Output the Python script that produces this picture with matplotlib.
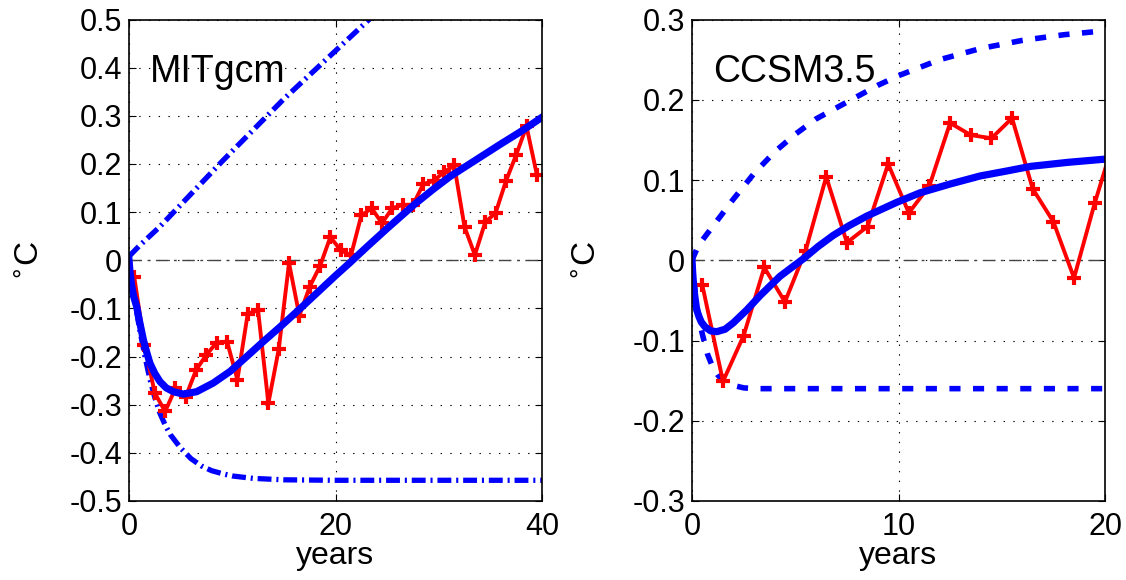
import matplotlib
matplotlib.use('Agg')
import matplotlib.pyplot as plt

plt.rcParams['font.family'] = ['Liberation Sans', 'DejaVu Sans']
plt.rcParams['lines.scale_dashes'] = False

# MITgcm panel
mit_years = [0.5, 1.5, 2.5, 3.5, 4.5, 5.5, 6.5, 7.5, 8.5, 9.5,
             10.5, 11.5, 12.5, 13.5, 14.5, 15.5, 16.5, 17.5, 18.5, 19.5,
             20.5, 21.5, 22.5, 23.5, 24.5, 25.5, 26.5, 27.5, 28.5, 29.5,
             30.5, 31.5, 32.5, 33.5, 34.5, 35.5, 36.5, 37.5, 38.5, 39.5]
mit_obs = [-0.034, -0.176, -0.276, -0.314, -0.266, -0.283, -0.228, -0.196, -0.171, -0.169,
           -0.248, -0.111, -0.104, -0.297, -0.185, -0.006, -0.115, -0.055, -0.012, 0.048,
           0.021, 0.010, 0.093, 0.108, 0.077, 0.108, 0.115, 0.115, 0.158, 0.165,
           0.183, 0.197, 0.069, 0.011, 0.079, 0.098, 0.164, 0.219, 0.278, 0.178]

mit_fit_x = [0, 0.1, 0.25, 0.45, 0.74, 1.05, 1.39, 1.7, 2.03, 2.5, 3.0, 3.6, 4.3, 5.26,
             6.55, 8.16, 9.78, 11.4, 13.0, 14.6, 16.6, 18, 20, 21.4, 23, 25, 27.7,
             29.5, 31.1, 33.5, 35.9, 38, 40]
mit_fit_y = [0, -0.025, -0.052, -0.075, -0.096, -0.13, -0.165, -0.19, -0.214, -0.235,
             -0.252, -0.265, -0.273, -0.278, -0.273, -0.255, -0.231, -0.2, -0.169,
             -0.139, -0.1, -0.072, -0.032, -0.005, 0.027, 0.066, 0.117, 0.148, 0.174,
             0.207, 0.24, 0.268, 0.297]

mit_up_x = [0, 1, 3, 5, 7, 9, 12, 15, 18, 21, 24]
mit_up_y = [0.008, 0.03, 0.07, 0.115, 0.16, 0.205, 0.27, 0.335, 0.395, 0.455, 0.515]

mit_lo_x = [0, 0.5, 1, 1.5, 2, 2.5, 3, 3.5, 4, 5, 6, 7, 8, 9, 10, 12, 15, 20, 40]
mit_lo_y = [0, -0.075, -0.14, -0.195, -0.245, -0.285, -0.318, -0.342, -0.362, -0.39,
            -0.412, -0.427, -0.437, -0.443, -0.448, -0.453, -0.456, -0.457, -0.457]

# CCSM3.5 panel
ccsm_years = [0.5, 1.5, 2.5, 3.5, 4.5, 5.5, 6.5, 7.5, 8.5, 9.5,
              10.5, 11.5, 12.5, 13.5, 14.5, 15.5, 16.5, 17.5, 18.5, 19.5, 20.5]
ccsm_obs = [-0.031, -0.151, -0.094, -0.009, -0.052, 0.012, 0.104, 0.022, 0.042, 0.120,
            0.059, 0.093, 0.171, 0.156, 0.152, 0.177, 0.089, 0.048, -0.022, 0.071, 0.155]

ccsm_fit_x = [0, 0.03, 0.06, 0.12, 0.23, 0.35, 0.45, 0.63, 0.9, 1.2, 1.6, 2.0, 2.65,
              3.3, 4.26, 5.4, 6.1, 6.84, 7.6, 8.46, 9.9, 11.04, 12.5, 13.95, 15.2,
              16.4, 18.2, 20]
ccsm_fit_y = [0, -0.014, -0.025, -0.042, -0.062, -0.071, -0.077, -0.083, -0.088, -0.089,
              -0.086, -0.078, -0.062, -0.044, -0.02, 0.002, 0.017, 0.031, 0.043, 0.055,
              0.072, 0.084, 0.095, 0.105, 0.111, 0.117, 0.122, 0.126]

ccsm_up_x = [0, 0.25, 0.5, 1, 1.5, 2, 3, 4, 5, 6, 7, 8, 9, 10, 12, 14, 16, 18, 20]
ccsm_up_y = [0, 0.015, 0.025, 0.042, 0.059, 0.076, 0.108, 0.135, 0.157, 0.176, 0.19,
             0.204, 0.218, 0.23, 0.25, 0.264, 0.274, 0.281, 0.286]

ccsm_lo_x = [0, 0.15, 0.3, 0.5, 0.75, 1.0, 1.25, 1.5, 2, 2.5, 3, 20]
ccsm_lo_y = [0, -0.04, -0.068, -0.092, -0.117, -0.133, -0.143, -0.150, -0.156, -0.159,
             -0.16, -0.16]

fig = plt.figure(figsize=(11.26, 5.8), dpi=100)
ax1 = fig.add_axes([129/1126, 79/580, 413/1126, 481.5/580])
ax2 = fig.add_axes([692/1126, 79/580, 413/1126, 481.5/580])

dashdot = (0, (10, 3.5, 1.5, 3.5))
dashed = (0, (8.0, 9.0))


def style_axes(ax, xmax, ymax, step, xticks, name):
    ax.set_xlim(0, xmax)
    ax.set_ylim(-ymax, ymax)
    ax.set_xticks(xticks)
    n = int(round(ymax / step))
    ax.set_yticks([round(i * step, 2) for i in range(-n, n + 1)])
    ax.set_yticklabels(['0' if i == 0 else '%g' % round(i * step, 2) for i in range(-n, n + 1)])
    ax.grid(True, linestyle=(0, (1, 6)), color='k', linewidth=0.8)
    ax.tick_params(direction='in', top=True, right=True, length=5, width=0.8,
                   labelsize=22, pad=5)
    ax.tick_params(axis='x', pad=8)
    ax.axhline(0, color='#444444', linestyle=(0, (9, 4, 2, 4)), linewidth=1.0)
    for s in ax.spines.values():
        s.set_linewidth(1.2)
    ax.set_xlabel('years', fontsize=23, labelpad=-1)
    ax.set_ylabel('$^{\\circ}$C', fontsize=24)
    ax.text(0.051, 0.871, name, transform=ax.transAxes, fontsize=27, va='baseline')


style_axes(ax1, 40, 0.5, 0.1, [0, 20, 40], 'MITgcm')
ax1.plot(mit_up_x, mit_up_y, color='blue', lw=3.8, linestyle=dashdot)
ax1.plot(mit_lo_x, mit_lo_y, color='blue', lw=3.8, linestyle=dashdot)
ax1.plot(mit_years, mit_obs, color='red', lw=2.8, marker='+', ms=10, mew=3)
ax1.plot(mit_fit_x, mit_fit_y, color='blue', lw=5.2)
ax1.yaxis.set_label_coords(-0.2, 0.5)

style_axes(ax2, 20, 0.3, 0.1, [0, 10, 20], 'CCSM3.5')
ax2.plot(ccsm_up_x, ccsm_up_y, color='blue', lw=4.0, linestyle=dashed)
ax2.plot(ccsm_lo_x, ccsm_lo_y, color='blue', lw=4.0, linestyle=dashed)
ax2.plot(ccsm_years, ccsm_obs, color='red', lw=2.8, marker='+', ms=10, mew=3)
ax2.plot(ccsm_fit_x, ccsm_fit_y, color='blue', lw=5.2)
ax2.yaxis.set_label_coords(-0.215, 0.5)

fig.savefig('out.png', dpi=100)
